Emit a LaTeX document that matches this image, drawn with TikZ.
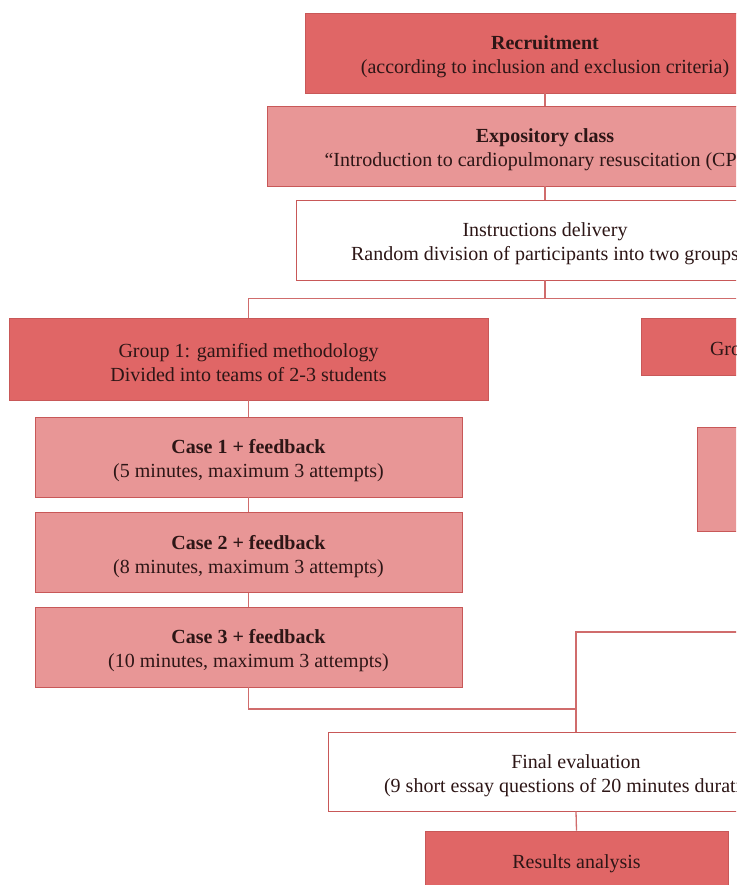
\documentclass[tikz,border=0pt]{standalone}
\usepackage{fontspec}
\setmainfont{Liberation Serif}
\definecolor{darkfill}{RGB}{224,102,102}
\definecolor{lightfill}{RGB}{232,150,150}
\definecolor{edgec}{RGB}{200,88,88}
\definecolor{connc}{RGB}{208,108,108}
\definecolor{txtc}{RGB}{45,22,22}
\newcommand\toprule{\rule{0pt}{21.5pt}}
\begin{document}
\begin{tikzpicture}[x=1pt,y=-1pt,
  box/.style={draw=edgec, line width=0.9pt, align=center, inner sep=0pt,
    font=\fontsize{20}{24}\selectfont, text=txtc},
  darkbox/.style={box, fill=darkfill},
  lightbox/.style={box, fill=lightfill},
  plainbox/.style={box, fill=white},
  conn/.style={draw=connc, line width=1.3pt}]
\useasboundingbox (0,0) rectangle (736,885);
\clip (0,0) rectangle (736,885);

\node[darkbox, minimum width=480pt, minimum height=80pt] (rec) at (545,53)
  {\toprule\textbf{Recruitment}\\(according to inclusion and exclusion criteria)};
\node[lightbox, minimum width=556pt, minimum height=80pt] (exp) at (545,146)
  {\toprule\textbf{Expository class}\\“Introduction to cardiopulmonary resuscitation (CPR)”};
\node[plainbox, minimum width=498pt, minimum height=80pt] (ins) at (545,240)
  {\toprule Instructions delivery\\Random division of participants into two groups};

\node[darkbox, minimum width=479pt, minimum height=82pt] (g1) at (248.5,359)
  {\toprule Group 1: gamified methodology\\Divided into teams of 2-3 students};
\node[darkbox, minimum height=57pt, text width=341pt, align=left, inner xsep=69pt] (g2) at (880.5,346.5)
  {\toprule Group 2};

\node[lightbox, minimum width=427pt, minimum height=80pt] (c1) at (248.5,457)
  {\toprule\textbf{Case 1 + feedback}\\(5 minutes, maximum 3 attempts)};
\node[lightbox, minimum width=427pt, minimum height=80pt] (c2) at (248.5,552.5)
  {\toprule\textbf{Case 2 + feedback}\\(8 minutes, maximum 3 attempts)};
\node[lightbox, minimum width=427pt, minimum height=80pt] (c3) at (248.5,647)
  {\toprule\textbf{Case 3 + feedback}\\(10 minutes, maximum 3 attempts)};

\node[lightbox, minimum width=427pt, minimum height=104pt] (g2sub) at (910.5,479) {};

\node[plainbox, minimum width=496pt, minimum height=79pt] (fin) at (576,771.5)
  {\toprule Final evaluation\\(9 short essay questions of 20 minutes duration)};
\node[darkbox, minimum width=303pt, minimum height=58pt] (res) at (576.5,860)
  {\toprule Results analysis};

\coordinate (split) at (545,298.5);
\coordinate (rjoin) at (576,632);
\coordinate (join) at (576,709);

\draw[conn] (rec.south) -- (exp.north);
\draw[conn] (exp.south) -- (ins.north);
\draw[conn] (ins.south) -- (split);
\draw[conn] (g1.north) |- (split) -| (g2.north);
\draw[conn] (g1.south) -- (c1.north);
\draw[conn] (c1.south) -- (c2.north);
\draw[conn] (c2.south) -- (c3.north);
\draw[conn] (g2.south) -- (g2.south |- g2sub.north);
\draw[conn] (c3.south) |- (join) -- (fin.north);
\draw[conn] (g2sub.south) |- (rjoin) -- (join);
\draw[conn] (fin.south) -- (res.north);
\end{tikzpicture}
\end{document}
